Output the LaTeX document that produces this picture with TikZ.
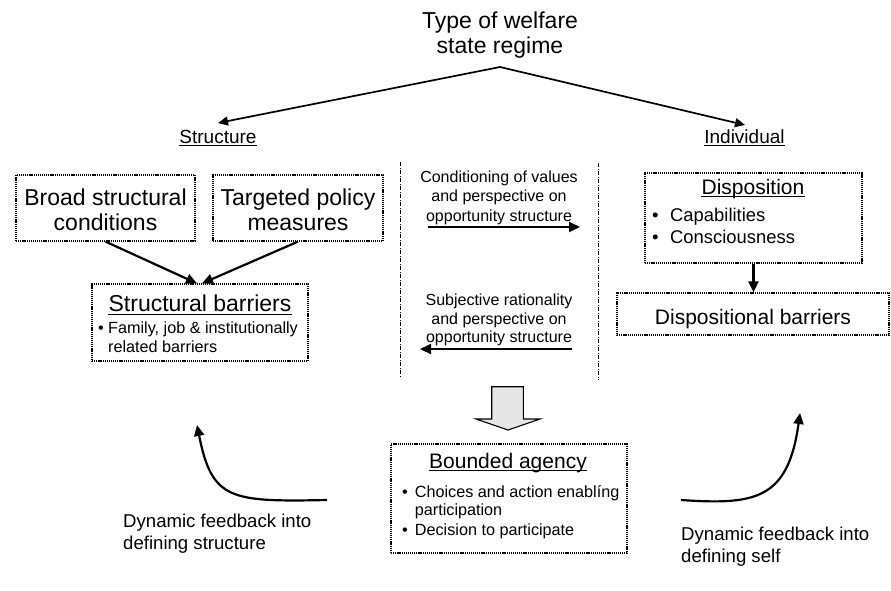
\documentclass[tikz,border=0pt]{standalone}
\usepackage{fontspec}
\setmainfont{Liberation Sans}
\usetikzlibrary{arrows.meta}
\newcommand\fsz[2]{\fontsize{#1}{#2}\selectfont}
\definecolor{blockgray}{HTML}{E6E6E6}
\begin{document}
\begin{tikzpicture}[x=1pt,y=-1pt,
  box/.style={draw, line width=1.2pt, dash pattern=on 1.2pt off 0.9pt, inner sep=0pt},
  txt/.style={inner sep=0pt, anchor=base},
  txtl/.style={inner sep=0pt, anchor=base west},
  conn/.style={line width=2.2pt, -{Triangle[length=11pt,width=10pt]}},
  thinconn/.style={line width=1.7pt, -{Triangle[length=10pt,width=9pt]}},
  sepline/.style={line width=1pt, dash pattern=on 4pt off 1.5pt on 1pt off 1.5pt},
  ulin/.style={line width=1pt},
  big/.style={font=\fsz{23}{25}},
  mid/.style={font=\fsz{21}{24}},
  sml/.style={font=\fsz{16.2}{19}},
  fb/.style={font=\fsz{18.6}{22}}]
\useasboundingbox (0,0) rectangle (891,590);

% title
\node[txt, big] (title1) at (500,28) {Type of welfare};
\node[txt, big] (title2) at (500,53) {state regime};
\coordinate (apex) at (500,67);
\coordinate (sTip) at (218,123);
\coordinate (iTip) at (745,125);
\draw[thinconn] (apex) -- (sTip);
\draw[thinconn] (apex) -- (iTip);

\node[txt, font=\fsz{19}{22}] (structure) at (218,143) {Structure};
\node[txt, font=\fsz{19}{22}] (individual) at (744.5,143) {Individual};
\draw[ulin] ([yshift=-2pt]structure.base west) -- ([yshift=-2pt]structure.base east);
\draw[ulin] ([yshift=-2pt]individual.base west) -- ([yshift=-2pt]individual.base east);

% boxes
\node[box, minimum width=179pt, minimum height=66pt] (broad) at (105.5,208) {};
\node[box, minimum width=170pt, minimum height=66pt] (targeted) at (298,208) {};
\node[box, minimum width=216pt, minimum height=77pt] (sbar) at (200,322.5) {};
\node[box, minimum width=217pt, minimum height=90pt] (disp) at (753.5,218) {};
\node[box, minimum width=272pt, minimum height=42pt] (dbar) at (753,314) {};
\node[box, minimum width=236pt, minimum height=109pt] (bounded) at (509,498.5) {};

% box texts
\node[txt, big] (broad1) at (105.5,205) {Broad structural};
\node[txt, big] (broad2) at (105.5,230) {conditions};
\node[txt, big] (targ1) at (298,205) {Targeted policy};
\node[txt, big] (targ2) at (298,230) {measures};

\node[txt, big] (sbt) at (200,311.7) {Structural barriers};
\draw[ulin] ([yshift=-2.5pt]sbt.base west) -- ([yshift=-2.5pt]sbt.base east);
\node[txtl, sml] (sbb1) at (98,333) {•};
\node[txtl, sml] (sbl1) at (108,333) {Family, job \& institutionally};
\node[txtl, sml] (sbl2) at (108,352) {related barriers};

\node[txt, mid] (dispt) at (753,194) {Disposition};
\draw[ulin] ([yshift=-2.5pt]dispt.base west) -- ([yshift=-2.5pt]dispt.base east);
\node[txtl, font=\fsz{18.4}{22}] (db1) at (652,221) {•};
\node[txtl, font=\fsz{18.4}{22}] (dl1) at (670,221) {Capabilities};
\node[txtl, font=\fsz{18.4}{22}] (db2) at (652,243) {•};
\node[txtl, font=\fsz{18.4}{22}] (dl2) at (670,243) {Consciousness};

\node[txt, mid] (dbart) at (753,324) {Dispositional barriers};

\node[txt, mid] (bat) at (508,468) {Bounded agency};
\draw[ulin] ([yshift=-2.5pt]bat.base west) -- ([yshift=-2.5pt]bat.base east);
\node[txtl, sml] (bb1) at (402,497) {•};
\node[txtl, sml] (bl1) at (414.7,497) {Choices and action enablíng};
\node[txtl, sml] (bl2) at (414.7,515) {participation};
\node[txtl, sml] (bb2) at (402,535) {•};
\node[txtl, sml] (bl3) at (414.7,535) {Decision to participate};

% middle texts
\node[txt, font=\fsz{16}{19}] (m1a) at (499,182) {Conditioning of values};
\node[txt, font=\fsz{16}{19}] (m1b) at (499,201.5) {and perspective on};
\node[txt, font=\fsz{16}{19}] (m1c) at (499,221) {opportunity structure};
\node[txt, font=\fsz{16}{19}] (m2a) at (499,305) {Subjective rationality};
\node[txt, font=\fsz{16}{19}] (m2b) at (499,324) {and perspective on};
\node[txt, font=\fsz{16}{19}] (m2c) at (499,342.7) {opportunity structure};

\coordinate (m1s) at (428,227);
\coordinate (m1e) at (580,227);
\coordinate (m2s) at (572,349);
\coordinate (m2e) at (420,349);
\draw[conn] (m1s) -- (m1e);
\draw[conn] (m2s) -- (m2e);

% separators
\draw[sepline] (400.7,162) -- (400.7,377);
\draw[sepline] (598,163) -- (598,380);

% connectors between boxes
\draw[conn] (broad.south) -- ([xshift=-3pt]sbar.north);
\draw[conn] (targeted.south) -- ([xshift=2pt]sbar.north);
\draw[conn] (disp.south) -- (disp.south |- dbar.north);

% block arrow
\draw[line width=1.1pt, fill=blockgray, line join=miter]
  (491.7,386.7) -- (523.3,386.7) -- (523.3,419) -- (540,419) -- (508,430)
  -- (476,419) -- (491.7,419) -- cycle;

% feedback curves
\coordinate (lfS) at (327,500);
\coordinate (lfE) at (197,425);
\draw[conn] (lfS) .. controls (230,502) and (212,500) .. (lfE);
\coordinate (rfS) at (681,500);
\coordinate (rfE) at (800,413);
\draw[conn] (rfS) .. controls (755,505) and (788,500) .. (rfE);

\node[txtl, fb] (fl1) at (123,527) {Dynamic feedback into};
\node[txtl, fb] (fl2) at (123,549) {defining structure};
\node[txtl, fb] (fr1) at (681,540) {Dynamic feedback into};
\node[txtl, fb] (fr2) at (681,562) {defining self};
\end{tikzpicture}
\end{document}
